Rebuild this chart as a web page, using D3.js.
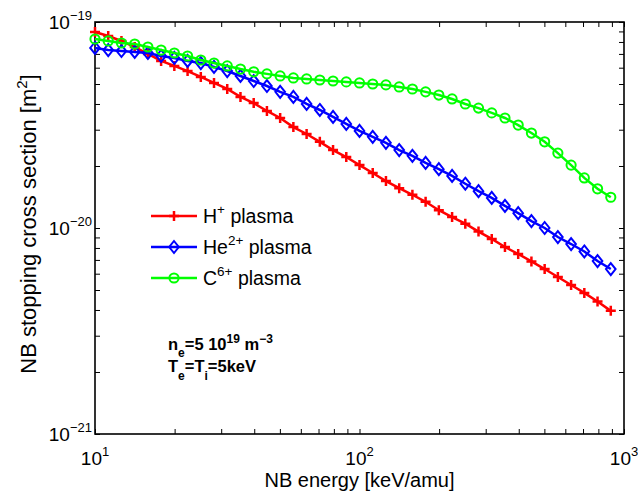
<!DOCTYPE html>
<html><head><meta charset="utf-8">
<script src="https://cdn.jsdelivr.net/npm/d3@7"></script>
<style>body{margin:0;background:#fff}</style></head>
<body><svg id="c" width="638" height="492"></svg>
<script>
// NB energy [keV/amu]
const energy = [10, 11.22, 12.59, 14.13, 15.85, 17.78, 19.95, 22.39, 25.12, 28.18,
  31.62, 35.48, 39.81, 44.67, 50.12, 56.23, 63.10, 70.79, 79.43, 89.13,
  100, 112.2, 125.9, 141.3, 158.5, 177.8, 199.5, 223.9, 251.2, 281.8,
  316.2, 354.8, 398.1, 446.7, 501.2, 562.3, 631.0, 707.9, 794.3, 891.3];
// stopping cross section, units of 1e-20 m^2
const hPlasma = [8.94, 8.55, 8.09, 7.56, 7.00, 6.47, 6.12, 5.78, 5.41, 5.06,
  4.73, 4.33, 4.04, 3.70, 3.42, 3.09, 2.86, 2.62, 2.39, 2.21,
  2.02, 1.85, 1.69, 1.56, 1.45, 1.34, 1.22, 1.13, 1.05, 0.961,
  0.885, 0.809, 0.748, 0.688, 0.632, 0.578, 0.529, 0.484, 0.440, 0.396];
const hePlasma = [7.48, 7.31, 7.23, 7.16, 7.07, 6.84, 6.69, 6.47, 6.32, 6.05,
  5.78, 5.47, 5.17, 4.89, 4.58, 4.33, 4.00, 3.74, 3.46, 3.20,
  2.96, 2.77, 2.59, 2.39, 2.24, 2.07, 1.93, 1.79, 1.64, 1.51,
  1.40, 1.28, 1.18, 1.08, 1.00, 0.904, 0.836, 0.769, 0.691, 0.632];
const cPlasma = [8.27, 8.09, 7.91, 7.82, 7.56, 7.31, 7.07, 6.84, 6.54, 6.32,
  6.12, 5.91, 5.73, 5.60, 5.47, 5.35, 5.29, 5.23, 5.17, 5.12,
  5.06, 5.00, 4.95, 4.84, 4.73, 4.58, 4.42, 4.23, 4.00, 3.82,
  3.62, 3.42, 3.16, 2.89, 2.62, 2.31, 2.02, 1.75, 1.55, 1.41];
const unit = 1e-20;
const xDecades = [10, 100, 1000];
const xDecadeExp = ["1", "2", "3"];
const yDecades = [1e-21, 1e-20, 1e-19];
const yDecadeExp = ["\u221221", "\u221220", "\u221219"];
const seriesNames = ["H", "He", "C"];
const seriesSup = ["+", "2+", "6+"];
const seriesColors = ["#ff0000", "#0000ff", "#00ff00"];
const seriesMarkers = ["plus", "diamond", "circle"];
const seriesData = [hPlasma, hePlasma, cPlasma];

const L = 95, R = 624, T = 22, B = 434;
const svg = d3.select("#c");
const font = "'Liberation Sans', Arial, Helvetica, sans-serif";
const x = d3.scaleLog().domain([10, 1000]).range([L, R]);
const y = d3.scaleLog().domain([1e-21, 1e-19]).range([B, T]);

const xMinor = [];
for (let d = 10; d < 1000; d *= 10) for (let k = 1; k < 10; k++) xMinor.push(d * k);
xMinor.push(1000);
const yMinor = [];
for (let d = 1e-21; d < 1e-19 * 0.99; d *= 10) for (let k = 1; k < 10; k++) yMinor.push(d * k);
yMinor.push(1e-19);

function styleAxis(g) {
  g.select(".domain").remove();
  g.selectAll(".tick line").attr("stroke", "#000").attr("stroke-width", 1);
  g.selectAll(".tick text").remove();
}
svg.append("g").attr("transform", `translate(0,${B})`)
  .call(d3.axisBottom(x).tickValues(xMinor).tickSize(-5).tickFormat("")).call(styleAxis);
svg.append("g").attr("transform", `translate(0,${T})`)
  .call(d3.axisTop(x).tickValues(xMinor).tickSize(-5).tickFormat("")).call(styleAxis);
svg.append("g").attr("transform", `translate(${L},0)`)
  .call(d3.axisLeft(y).tickValues(yMinor).tickSize(-5).tickFormat("")).call(styleAxis);
svg.append("g").attr("transform", `translate(${R},0)`)
  .call(d3.axisRight(y).tickValues(yMinor).tickSize(-5).tickFormat("")).call(styleAxis);

svg.append("rect").attr("x", L).attr("y", T).attr("width", R - L).attr("height", B - T)
  .attr("fill", "none").attr("stroke", "#000").attr("stroke-width", 1.6);

// x tick labels
xDecades.forEach((v, i) => {
  const t = svg.append("text").attr("x", x(v)).attr("y", 465).attr("text-anchor", "middle")
    .attr("font-family", font).attr("font-size", 19).attr("fill", "#000");
  t.append("tspan").text("10");
  t.append("tspan").attr("dy", -9).attr("font-size", 13).text(xDecadeExp[i]);
});
// y tick labels
yDecades.forEach((v, i) => {
  const t = svg.append("text").attr("x", 92).attr("y", y(v) + 7).attr("text-anchor", "end")
    .attr("font-family", font).attr("font-size", 19).attr("fill", "#000");
  t.append("tspan").text("10");
  t.append("tspan").attr("dy", -9).attr("font-size", 13).text(yDecadeExp[i]);
});

// axis titles
svg.append("text").attr("x", (L + R) / 2).attr("y", 487).attr("text-anchor", "middle")
  .attr("font-family", font).attr("font-size", 20).text("NB energy [keV/amu]");
const yl = svg.append("text").attr("transform", `translate(36,${(T + B) / 2 - 4}) rotate(-90)`)
  .attr("text-anchor", "middle").attr("font-family", font).attr("font-size", 22);
yl.append("tspan").text("NB stopping cross section [m");
yl.append("tspan").attr("dy", -9).attr("font-size", 15).text("2");
yl.append("tspan").attr("dy", 9).text("]");

function drawMarker(g, type, color) {
  if (type === "plus") {
    g.append("path").attr("d", "M-5,0H5M0,-5V5").attr("stroke", color).attr("stroke-width", 2.5).attr("fill", "none");
  } else if (type === "diamond") {
    g.append("path").attr("d", "M0,-6L4.8,0L0,6L-4.8,0Z").attr("stroke", color).attr("stroke-width", 2).attr("fill", "none");
  } else {
    g.append("circle").attr("r", 4.6).attr("stroke", color).attr("stroke-width", 2).attr("fill", "none");
  }
}

const line = d3.line().x(d => x(d[0])).y(d => y(d[1] * unit));
seriesData.forEach((vals, si) => {
  const pts = energy.map((e, i) => [e, vals[i]]);
  svg.append("path").datum(pts).attr("d", line).attr("fill", "none")
    .attr("stroke", seriesColors[si]).attr("stroke-width", 2.5);
  pts.forEach(p => {
    const g = svg.append("g").attr("transform", `translate(${x(p[0])},${y(p[1] * unit)})`);
    drawMarker(g, seriesMarkers[si], seriesColors[si]);
  });
});

// legend
const legY = [216, 247, 278];
seriesNames.forEach((n, i) => {
  svg.append("line").attr("x1", 151).attr("x2", 197).attr("y1", legY[i]).attr("y2", legY[i])
    .attr("stroke", seriesColors[i]).attr("stroke-width", 2.5);
  const g = svg.append("g").attr("transform", `translate(174,${legY[i]})`);
  drawMarker(g, seriesMarkers[i], seriesColors[i]);
  const t = svg.append("text").attr("x", 203).attr("y", legY[i] + 7)
    .attr("font-family", font).attr("font-size", 19.5).attr("fill", "#000");
  t.append("tspan").text(n);
  t.append("tspan").attr("dy", -9).attr("font-size", 13.5).text(seriesSup[i]);
  t.append("tspan").attr("dy", 9).text(" plasma");
});

// annotation
const a1 = svg.append("text").attr("x", 168).attr("y", 350).attr("font-family", font)
  .attr("font-size", 16.5).attr("font-weight", "bold");
a1.append("tspan").text("n");
a1.append("tspan").attr("dy", 7).attr("font-size", 12).text("e");
a1.append("tspan").attr("dy", -7).text("=5 10");
a1.append("tspan").attr("dy", -7).attr("font-size", 12).text("19");
a1.append("tspan").attr("dy", 7).text(" m");
a1.append("tspan").attr("dy", -7).attr("font-size", 12).text("\u22123");
const a2 = svg.append("text").attr("x", 168).attr("y", 372).attr("font-family", font)
  .attr("font-size", 16.5).attr("font-weight", "bold");
a2.append("tspan").text("T");
a2.append("tspan").attr("dy", 8).attr("font-size", 12).text("e");
a2.append("tspan").attr("dy", -8).text("=T");
a2.append("tspan").attr("dy", 8).attr("font-size", 12).text("i");
a2.append("tspan").attr("dy", -8).text("=5keV");
</script></body></html>
